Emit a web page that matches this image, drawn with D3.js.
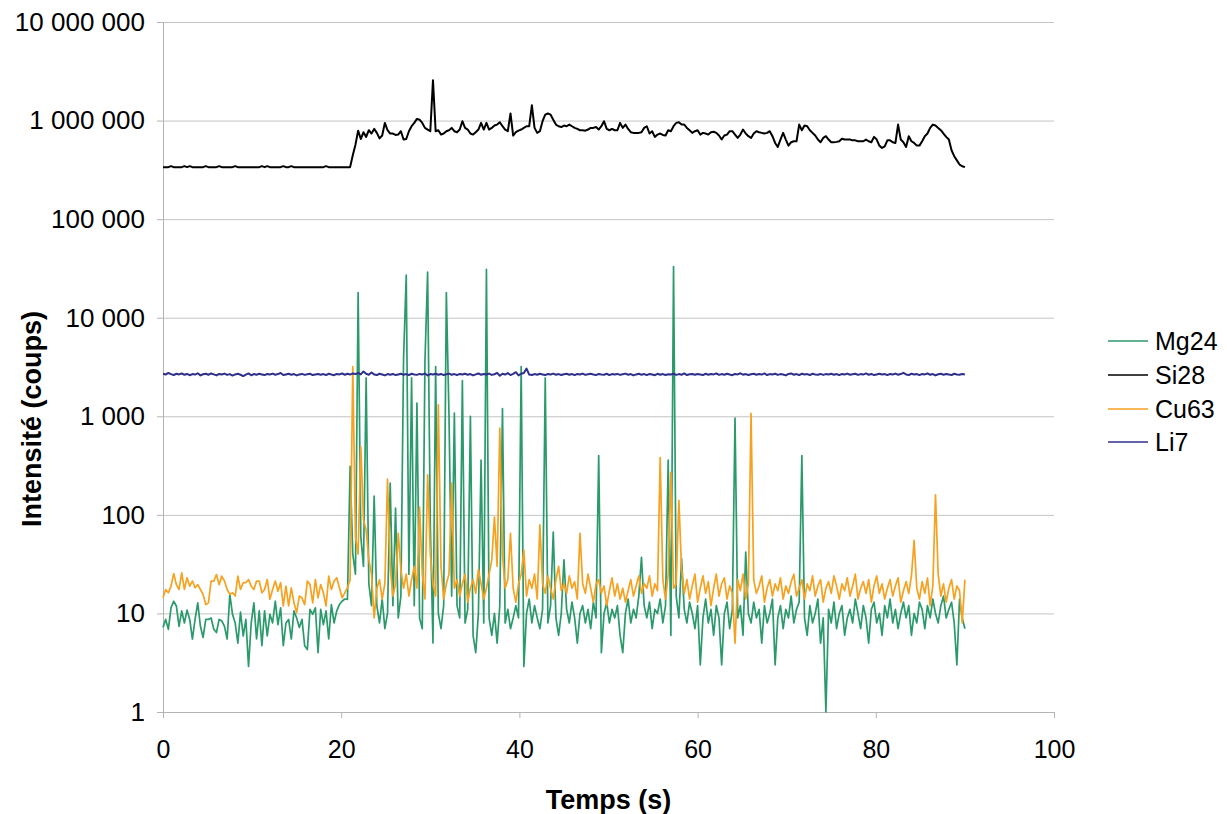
<!DOCTYPE html>
<html><head><meta charset="utf-8">
<script src="https://cdn.jsdelivr.net/npm/d3@7"></script>
<style>body{margin:0;background:#fff}svg{display:block}text{font-family:Arial,"Liberation Sans",sans-serif;fill:#000}</style>
</head><body><svg id="c" width="1227" height="814"></svg>
<script>
// sampling interval (s): sample i is at time i*dt
const dt = 0.3;
const xTicks = [0, 20, 40, 60, 80, 100];
const xTickLabels = ["0", "20", "40", "60", "80", "100"];
const yTicks = [1, 10, 100, 1000, 10000, 100000, 1000000, 10000000];
const yTickLabels = ["1", "10", "100", "1 000", "10 000", "100 000", "1 000 000", "10 000 000"];
const seriesNames = ["Mg24", "Si28", "Cu63", "Li7"];
const seriesColors = ["#2a9a6c", "#000000", "#f6a11f", "#2f2f8c"];

const mg24 = [
7.2,8.7,6.9,11.4,13.3,11.9,7.4,10.6,8.0,10.8,
8.7,5.5,8.7,12.8,7.4,5.7,8.7,8.7,9.0,6.9,
6.4,8.7,8.4,7.4,5.5,15.6,9.8,8.0,5.0,10.3,
5.9,8.7,2.9,8.0,12.8,5.5,10.6,4.7,10.6,5.9,
9.8,8.0,13.3,7.7,11.4,4.7,8.0,8.7,5.5,10.6,
9.0,7.2,8.7,4.7,4.3,11.0,9.8,11.4,4.0,11.0,
7.7,10.6,5.5,12.3,8.0,10.6,12.3,13.3,14,13.9,
310,40,25,18000,60,30,2450,20,12,155,
12,8,14,7,10,210,12,117,9,15,
3900,27000,25,2450,12,1360,9,7,3600,29000,
80,5,3200,10,7,12,18000,1000,15,1080,
12,9,2300,8,11,1000,6,4,10,360,
8,31000,9,6,10,5,12,1200,8,11,
7,9,12,9,3200,2.9,10,14,8,12,
9,7,11,2450,8,12,67,9,6,10,
35,11,8,13,9,5,10,12,8,11,
7,13,9,400,4,10,13,8,11,9,
12,6,4,10,14,8,11,9,15,37,
12,9,13,7,11,10,14,8,12,360,
6,33000,15,9,36,11,8,13,10,7,
12,3,9,14,8,11,6,12,9,3,
10,13,7,11,960,9,12,6,42,10,
8,13,9,11,5,12,8,10,14,3,
9,12,7,11,9,15,8,11,13,400,
9,6,12,8,10,14,5,9,1,11,
8,13,7,10,12,6,9,11,8,14,
10,7,12,9,5,11,13,8,10,6,
12,9,14,8,11,7,10,13,9,12,
6,10,8,13,11,7,12,9,14,10,
8,12,15,9,11,13,8,3,14,9,
7];

const si28 = [
337000,337000,337000,345000,337000,337000,337000,337000,345000,337000,
345000,337000,337000,337000,337000,337000,345000,337000,337000,337000,
337000,345000,337000,337000,337000,337000,337000,345000,337000,337000,
337000,337000,337000,337000,337000,337000,337000,345000,337000,345000,
337000,337000,337000,337000,337000,345000,337000,337000,345000,337000,
337000,337000,337000,337000,337000,337000,337000,337000,337000,337000,
337000,345000,337000,337000,337000,337000,337000,337000,337000,337000,
337000,445000,570000,790000,650000,762000,683000,798000,739000,823000,
750000,660000,705000,947000,798000,739000,739000,715000,721000,780000,
642000,650000,780000,876000,947000,1040000,1020000,947000,843000,811000,
780000,2560000,780000,798000,721000,739000,780000,798000,843000,780000,
762000,811000,985000,843000,811000,739000,721000,762000,811000,947000,
811000,947000,811000,843000,890000,911000,962000,876000,811000,780000,
1180000,705000,762000,790000,811000,843000,876000,876000,1430000,843000,
750000,780000,985000,1150000,1180000,1150000,1020000,911000,876000,860000,
890000,876000,911000,876000,843000,823000,798000,798000,790000,811000,
843000,843000,860000,811000,876000,985000,823000,798000,823000,798000,
798000,947000,843000,911000,823000,762000,750000,750000,750000,762000,
843000,876000,739000,780000,683000,721000,739000,715000,705000,798000,
780000,876000,947000,962000,911000,911000,843000,798000,750000,780000,
798000,721000,750000,739000,721000,762000,770000,750000,705000,642000,
705000,721000,780000,780000,721000,667000,721000,811000,739000,694000,
667000,739000,780000,762000,750000,739000,750000,780000,694000,593000,
540000,642000,750000,642000,557000,603000,617000,617000,911000,798000,
890000,876000,798000,750000,705000,642000,603000,667000,694000,642000,
603000,603000,608000,617000,655000,642000,642000,642000,630000,630000,
617000,617000,617000,642000,617000,603000,683000,642000,557000,528000,
548000,630000,630000,603000,593000,911000,642000,603000,540000,694000,
617000,593000,557000,557000,617000,694000,739000,843000,911000,890000,
843000,798000,739000,683000,642000,500000,435000,395000,358000,344000,
337000];

const cu63 = [
14.4,17.5,16.2,18.9,25.4,19.6,17.5,25.8,17.5,23.0,
18.9,21.3,18.2,19.6,17.5,15.6,12.3,12.8,21.3,21.3,
24.8,19.6,23.9,21.3,17.5,15.6,16.2,15.0,23.9,17.5,
20.5,20.5,22.1,18.9,17.5,21.3,21.3,16.2,17.5,22.1,
13.9,17.5,21.3,16.8,20.5,11.9,18.9,11.9,18.2,12.8,
10.2,15.0,14.4,12.3,21.3,19.6,12.8,22.1,14.4,19.6,
16.2,11.9,23.9,17.5,21.3,23.0,18.2,14.4,16.2,18.2,
22,3200,60,40,490,90,70,35,25,9,
18,22,14,20,230,30,15,20,65,28,
18,25,15,22,30,18,120,25,14,255,
40,20,15,1310,30,14,20,25,210,18,
22,15,20,25,13,18,22,16,28,20,
14,18,25,35,95,30,760,40,18,22,
65,18,13,20,25,44,15,22,18,25,
14,79,20,16,24,18,14,22,30,17,
20,16,24,18,21,14,65,20,16,25,
18,13,20,22,16,19,12,17,23,15,
20,14,18,13,17,22,15,19,24,16,
20,18,24,15,20,17,380,22,14,25,
270,18,20,140,28,16,22,14,19,25,
13,18,24,16,21,12,18,25,15,20,
23,14,19,16,5,22,17,25,14,20,
1070,22,16,19,24,13,18,22,15,20,
17,23,14,19,16,21,25,15,18,22,
14,20,17,24,15,19,22,13,18,21,
16,24,19,14,20,17,23,15,19,25,
14,18,21,16,22,13,19,24,16,20,
14,18,22,15,19,23,13,17,21,16,
24,55,18,14,21,16,23,12,19,160,
25,15,20,13,18,22,14,19,17,8,
22];

const li7 = [
2700,2650,2750,2680,2620,2700,2660,2720,2640,2690,
2610,2680,2650,2730,2600,2670,2700,2640,2720,2660,
2600,2690,2650,2710,2630,2680,2590,2660,2700,2640,
2560,2650,2720,2610,2680,2640,2700,2660,2620,2690,
2650,2710,2640,2680,2750,2620,2660,2700,2640,2680,
2600,2650,2690,2630,2670,2700,2620,2660,2690,2640,
2680,2620,2700,2650,2610,2690,2660,2720,2640,2700,
2650,2720,2680,2750,2660,2850,2700,2640,2780,2660,
2620,2700,2650,2600,2680,2640,2690,2620,2660,2700,
2640,2680,2620,2700,2660,2630,2690,2650,2720,2600,
2680,2650,2700,2640,2690,2620,2670,2710,2640,2680,
2620,2690,2650,2700,2640,2680,2600,2660,2720,2640,
2690,2650,2710,2630,2670,2760,2580,2700,2650,2740,
2620,2690,2800,2600,2700,2750,3050,2650,2620,2680,
2640,2700,2660,2620,2690,2650,2710,2640,2680,2620,
2670,2700,2640,2680,2620,2690,2650,2710,2630,2670,
2700,2650,2620,2690,2660,2640,2700,2620,2680,2650,
2690,2630,2670,2710,2640,2680,2600,2660,2700,2640,
2680,2620,2690,2650,2610,2700,2640,2680,2620,2670,
2650,2700,2630,2680,2640,2720,2620,2670,2690,2640,
2680,2650,2620,2700,2640,2690,2660,2720,2630,2680,
2640,2700,2650,2610,2690,2660,2730,2640,2680,2620,
2670,2700,2640,2690,2650,2720,2620,2680,2660,2700,
2630,2680,2650,2600,2690,2720,2640,2680,2620,2700,
2650,2680,2620,2700,2660,2640,2690,2630,2680,2650,
2700,2640,2680,2620,2690,2650,2710,2640,2670,2700,
2630,2680,2650,2720,2640,2690,2620,2660,2700,2650,
2680,2620,2690,2650,2710,2640,2680,2760,2660,2620,
2700,2650,2680,2620,2690,2660,2720,2640,2680,2600,
2670,2700,2640,2690,2650,2620,2700,2660,2640,2690,
2650];

const seriesData = [mg24, si28, cu63, li7];

const svg = d3.select("#c");
const L = 163, R = 1054, T = 22, B = 712;
const x = d3.scaleLinear().domain([0, 100]).range([L, R]);
const y = d3.scaleLog().domain([1, 1e7]).range([B, T]);

// horizontal grid
svg.append("g").attr("transform", `translate(${L},0)`)
  .call(d3.axisLeft(y).tickValues(yTicks).tickSize(-(R - L)).tickFormat(""))
  .call(g => g.select(".domain").remove())
  .call(g => g.selectAll("line").attr("stroke", "#c4c4c4").attr("stroke-width", 1));

// y axis
svg.append("g").attr("transform", `translate(${L},0)`)
  .call(d3.axisLeft(y).tickValues(yTicks).tickSize(6).tickSizeOuter(0).tickPadding(12)
    .tickFormat((d, i) => yTickLabels[i]))
  .call(g => g.select(".domain").attr("stroke", "#b4b4b4"))
  .call(g => g.selectAll("line").attr("stroke", "#b4b4b4"))
  .call(g => g.selectAll("text").attr("font-size", 26).attr("font-family", "Arial, 'Liberation Sans', sans-serif"));

// x axis
svg.append("g").attr("transform", `translate(0,${B})`)
  .call(d3.axisBottom(x).tickValues(xTicks).tickSize(6).tickSizeOuter(0).tickPadding(22)
    .tickFormat((d, i) => xTickLabels[i]))
  .call(g => g.select(".domain").attr("stroke", "#b4b4b4"))
  .call(g => g.selectAll("line").attr("stroke", "#b4b4b4"))
  .call(g => g.selectAll("text").attr("font-size", 25).attr("font-family", "Arial, 'Liberation Sans', sans-serif"));

// series
const line = d3.line().x((d, i) => x(i * dt)).y(d => y(d));
const widths = [1.7, 2, 1.7, 2];
seriesData.forEach((arr, k) => {
  svg.append("path").datum(arr)
    .attr("fill", "none").attr("stroke", seriesColors[k])
    .attr("stroke-width", widths[k]).attr("stroke-linejoin", "round")
    .attr("d", line);
});

// axis titles
svg.append("text").attr("x", (L + R) / 2).attr("y", 809).attr("text-anchor", "middle")
  .attr("font-size", 27).attr("font-weight", "bold").text("Temps (s)");
svg.append("text").attr("transform", "translate(41,419) rotate(-90)").attr("text-anchor", "middle")
  .attr("font-size", 27).attr("font-weight", "bold").text("Intensité (coups)");

// legend
const legY = [341, 375, 409, 442];
const leg = svg.append("g");
seriesNames.forEach((n, k) => {
  leg.append("line").attr("x1", 1108).attr("x2", 1148).attr("y1", legY[k]).attr("y2", legY[k])
    .attr("stroke", seriesColors[k]).attr("stroke-width", 1.5);
  leg.append("text").attr("x", 1155).attr("y", legY[k]).attr("dy", "0.36em")
    .attr("font-size", 25).text(n);
});
</script></body></html>
